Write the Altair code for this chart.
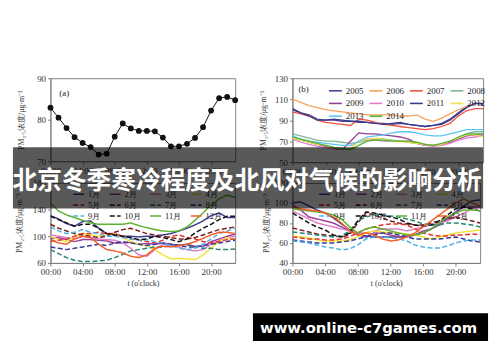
import altair as alt
import pandas as pd

hours = list(range(24))
tick_hours = [0, 4, 8, 12, 16, 20]

# (a) mean diurnal PM2.5
pm_mean = [82.9, 80.5, 78.0, 75.8, 74.4, 73.4, 71.6, 71.8, 75.9, 79.1, 77.9, 77.3,
           77.3, 77.2, 75.7, 73.6, 73.6, 74.2, 75.6, 78.2, 82.2, 85.2, 85.5, 84.7]

# (b) yearly diurnal curves
years = ["2005", "2006", "2007", "2008", "2009", "2010", "2011", "2012", "2013", "2014"]
year_colors = ["#4d3f91", "#f7a35c", "#f0503c", "#7fb897", "#963c96",
               "#e27fd0", "#3a3a8a", "#f0e24a", "#5cc6f0", "#52b435"]
y2005 = [100, 97, 95, 91, 90, 90, 89, 89, 88, 88, 87, 87, 86, 87, 86, 85, 84, 85, 87, 91, 97, 103, 106, 105]
y2006 = [110, 107, 104, 102, 100, 99, 98, 97, 96, 95, 95, 95, 95, 94, 94, 95, 91, 89, 92, 96, 100, 103, 106, 106]
y2007 = [98, 96, 94, 90, 88, 87, 86, 85, 91, 90, 88, 86, 85, 84, 83, 82, 81, 82, 84, 87, 94, 99, 101, 101]
y2008 = [77, 75, 73, 71, 70, 70, 69, 68, 69, 71, 72, 72, 71, 70, 69, 68, 67, 66, 67, 69, 73, 77, 79, 79]
y2009 = [73, 71, 69, 67, 65, 63, 62, 70, 78, 77, 77, 76, 75, 74, 72, 68, 66, 66, 67, 69, 72, 75, 76, 76]
y2010 = [72, 69, 67, 65, 64, 63, 62, 63, 70, 72, 71, 70, 70, 70, 70, 68, 66, 65, 66, 68, 71, 73, 74, 75]
y2011 = [101, 97, 94, 90, 90, 91, 90, 89, 89, 88, 87, 86, 87, 88, 86, 85, 84, 85, 86, 90, 96, 102, 106, 106]
y2012 = [73, 71, 69, 67, 66, 64, 63, 63, 70, 72, 73, 72, 70, 70, 69, 68, 67, 66, 67, 70, 73, 76, 76, 74]
y2013 = [75, 72, 70, 69, 68, 67, 66, 66, 70, 74, 75, 76, 78, 79, 79, 78, 76, 75, 75, 77, 79, 81, 81, 81]
y2014 = [74, 72, 70, 68, 66, 64, 63, 62, 66, 70, 71, 71, 70, 70, 70, 69, 67, 66, 68, 70, 74, 77, 77, 77]
year_series = [y2005, y2006, y2007, y2008, y2009, y2010, y2011, y2012, y2013, y2014]

# (c) / (d) monthly diurnal curves
months = ["1月", "2月", "3月", "4月", "5月", "6月", "7月", "8月", "9月", "10月", "11月", "12月"]
month_colors = ["#3f3a8f", "#9b3f9e", "#e07fc9", "#f2e33c", "#e8342e", "#7a1f1f",
                "#2a8577", "#3b3b96", "#4fb3e8", "#111111", "#5fb130", "#f2602a"]
month_dash = [[1, 0]] * 4 + [[5, 2.5]] * 6 + [[1, 0]] * 2

c_series = [
    [131, 126, 119, 115, 122, 123, 112, 104, 102, 100, 100, 99, 100, 100, 102, 104, 108, 112, 117, 123, 131, 135, 128, 128],
    [96, 98, 95, 92, 95, 95, 94, 93, 90, 90, 91, 88, 89, 88, 90, 88, 87, 88, 85, 85, 92, 96, 100, 103],
    [102, 100, 98, 96, 100, 98, 96, 95, 94, 90, 82, 72, 70, 80, 88, 86, 84, 80, 78, 80, 88, 94, 98, 100],
    [100, 95, 92, 100, 104, 102, 100, 102, 104, 98, 92, 88, 86, 80, 72, 66, 67, 66, 65, 72, 82, 92, 98, 95],
    [92, 94, 96, 100, 104, 104, 106, 104, 104, 100, 96, 94, 92, 90, 94, 100, 102, 98, 96, 92, 90, 92, 95, 96],
    [118, 112, 108, 104, 102, 100, 98, 100, 106, 110, 112, 108, 104, 102, 100, 98, 96, 96, 98, 102, 106, 110, 112, 114],
    [80, 74, 68, 64, 62, 62, 63, 64, 68, 73, 78, 80, 82, 84, 84, 86, 87, 87, 84, 82, 82, 80, 80, 81],
    [84, 82, 80, 82, 84, 86, 88, 86, 90, 92, 90, 88, 86, 88, 90, 88, 86, 84, 84, 86, 88, 90, 92, 94],
    [114, 108, 104, 106, 110, 106, 104, 100, 100, 98, 96, 94, 95, 92, 90, 86, 82, 80, 82, 88, 96, 104, 108, 112],
    [130, 125, 120, 115, 118, 118, 112, 104, 102, 100, 98, 95, 96, 100, 98, 95, 92, 96, 105, 112, 118, 125, 130, 130],
    [150, 138, 132, 128, 124, 120, 118, 118, 118, 118, 120, 116, 113, 110, 108, 107, 108, 114, 124, 135, 147, 156, 162, 158],
    [95, 90, 88, 96, 100, 98, 88, 80, 78, 75, 70, 68, 72, 82, 85, 84, 86, 88, 92, 97, 102, 106, 106, 104],
]
d_series = [
    [100, 101, 97, 93, 90, 85, 79, 73, 69, 67, 66, 66, 66, 66, 67, 68, 70, 74, 79, 85, 91, 97, 102, 103],
    [98, 93, 86, 84, 82, 80, 76, 72, 68, 66, 70, 70, 68, 66, 66, 68, 72, 74, 78, 84, 90, 96, 96, 96],
    [92, 88, 84, 80, 78, 76, 74, 72, 70, 70, 72, 74, 74, 74, 72, 74, 76, 78, 80, 82, 86, 90, 94, 96],
    [67, 66, 65, 63, 62, 62, 62, 63, 66, 70, 72, 71, 70, 70, 69, 68, 66, 64, 66, 68, 70, 71, 72, 73],
    [66, 65, 64, 64, 63, 63, 64, 66, 70, 74, 76, 78, 79, 79, 78, 74, 70, 68, 67, 67, 68, 68, 69, 68],
    [75, 73, 71, 69, 68, 67, 66, 68, 80, 90, 88, 85, 82, 80, 79, 78, 78, 80, 82, 84, 86, 84, 82, 80],
    [71, 70, 69, 68, 67, 66, 67, 72, 82, 86, 88, 88, 87, 86, 84, 82, 79, 78, 78, 80, 80, 79, 78, 76],
    [63, 62, 61, 60, 60, 60, 61, 62, 64, 66, 68, 70, 70, 68, 66, 64, 64, 64, 64, 65, 66, 64, 62, 61],
    [62, 61, 60, 58, 56, 55, 53, 54, 58, 64, 66, 66, 65, 64, 62, 58, 56, 55, 55, 57, 60, 62, 63, 63],
    [90, 85, 80, 76, 73, 68, 66, 70, 82, 91, 90, 88, 86, 84, 80, 78, 77, 78, 82, 88, 94, 96, 94, 92],
    [94, 93, 92, 91, 90, 88, 84, 76, 70, 74, 76, 74, 72, 70, 68, 68, 70, 74, 80, 86, 90, 93, 93, 92],
    [96, 94, 93, 92, 90, 86, 80, 72, 68, 70, 68, 64, 62, 63, 66, 70, 76, 82, 88, 94, 100, 104, 100, 97],
]

y_title = "PM₂.₅浓度/μg·m⁻³"
x_title = "t (o'clock)"
banner_text = "北京冬季寒冷程度及北风对气候的影响分析"
watermark_text = "www.online-c7games.com"

SERIF = "Liberation Serif"
FRAME = "#808080"


def x_enc(title):
    return alt.X("h:Q", scale=alt.Scale(domain=[0, 23], nice=False),
                 axis=alt.Axis(values=tick_hours, grid=False, labelFlush=False,
                               labelExpr="(datum.value < 10 ? '0' : '') + datum.value + ':00'",
                               title=title, titlePadding=3))


def y_enc(domain, ticks, tpad):
    return alt.Y("v:Q", scale=alt.Scale(domain=domain, nice=False, zero=False),
                 axis=alt.Axis(values=ticks, grid=False, title=y_title, titlePadding=tpad))


def panel_label(txt, dx, dy):
    return alt.Chart(pd.DataFrame({"t": [txt]})).mark_text(
        align="left", baseline="middle", font=SERIF, fontSize=9, color="#222"
    ).encode(x=alt.value(dx), y=alt.value(dy), text="t:N")


# ---- (a)
df_a = pd.DataFrame({"h": hours, "v": pm_mean})
base_a = alt.Chart(df_a).encode(x=x_enc(""), y=y_enc([70, 90], [70, 80, 90], 11))
chart_a = alt.layer(
    base_a.mark_line(color="#111", strokeWidth=1),
    base_a.mark_point(filled=True, color="#111", size=34, opacity=1),
    panel_label("(a)", 9, 15),
).properties(width=187, height=84)

# ---- (b)
df_b = pd.DataFrame([{"h": h, "year": y, "v": v}
                     for y, vals in zip(years, year_series) for h, v in zip(hours, vals)])
legend_b = alt.Legend(title=None, orient="none", legendX=36, legendY=5, columns=4,
                      direction="horizontal",
                      symbolType="stroke", symbolSize=169, symbolStrokeWidth=1.6,
                      labelFont=SERIF, labelFontSize=9, labelOffset=3,
                      columnPadding=2, rowPadding=0, labelColor="#222")
chart_b = alt.layer(
    alt.Chart(df_b).mark_line(strokeWidth=1.3, clip=True).encode(
        x=x_enc(""), y=y_enc([50, 130], [50, 70, 90, 110, 130], 7),
        color=alt.Color("year:N", scale=alt.Scale(domain=years, range=year_colors), legend=legend_b),
    ),
    panel_label("(b)", 6, 11),
).properties(width=193, height=85)


# ---- (c), (d)
def month_chart(series, domain, ticks, tpad, lx, w):
    df = pd.DataFrame([{"h": h, "month": m, "v": v}
                       for m, vals in zip(months, series) for h, v in zip(hours, vals)])
    leg = alt.Legend(title=None, orient="none", legendX=lx, legendY=5, columns=4,
                     direction="horizontal",
                     symbolType="stroke", symbolSize=121, symbolStrokeWidth=1.6,
                     labelFont=SERIF, labelFontSize=8.5, labelOffset=3,
                     columnPadding=4, rowPadding=0, labelColor="#222")
    return alt.Chart(df).mark_line(strokeWidth=1.5, clip=True).encode(
        x=x_enc(x_title), y=y_enc(domain, ticks, tpad),
        color=alt.Color("month:N", scale=alt.Scale(domain=months, range=month_colors), legend=leg),
        strokeDash=alt.StrokeDash("month:N", scale=alt.Scale(domain=months, range=month_dash), legend=leg),
    ).properties(width=w, height=81)


chart_c = month_chart(c_series, [60, 180], [60, 100, 140, 180], 9, 22, 187)
chart_d = month_chart(d_series, [40, 120], [40, 60, 80, 100, 120], 4, 26, 190)

# ---- overlay cell (banner + watermark), drawn last; origin is 21px below the bottom panels
ov = alt.Chart(pd.DataFrame({"t": [banner_text], "w": [watermark_text]}))
overlay = alt.layer(
    ov.mark_rect(color="black", opacity=0.65).encode(
        x=alt.value(-38), x2=alt.value(438), y=alt.value(-138), y2=alt.value(-76)),
    ov.mark_text(font="Noto Sans CJK SC", fontWeight="bold", fontSize=25, color="white",
                 align="center", baseline="middle").encode(
        x=alt.value(199), y=alt.value(-104), text="t:N"),
    ov.mark_rect(color="black").encode(
        x=alt.value(205), x2=alt.value(443), y=alt.value(30), y2=alt.value(58)),
    ov.mark_text(font="DejaVu Sans", fontWeight="bold", fontSize=15, color="white",
                 align="center", baseline="middle").encode(
        x=alt.value(322), y=alt.value(45), text="w:N"),
).properties(width=187, height=58, view=alt.ViewBackground(strokeOpacity=0))

chart = alt.concat(
    chart_a, chart_b, chart_c, chart_d, overlay,
    columns=2, bounds="flush", spacing={"row": 21, "column": 58},
).resolve_scale(
    x="independent", y="independent", color="independent", strokeDash="independent"
).resolve_legend(
    color="independent", strokeDash="independent"
).properties(
    padding={"left": 4, "top": 64, "right": 4, "bottom": 4}
).configure_view(stroke=FRAME, strokeWidth=1).configure_axis(
    labelFont=SERIF, labelFontSize=9, labelColor="#333", domainColor=FRAME,
    tickColor=FRAME, tickSize=3, labelPadding=2, titleFont=SERIF, titleFontSize=8,
    titleFontWeight="normal", titleColor="#333"
)

chart.save("out.html", embed_options={"renderer": "svg", "actions": False})
